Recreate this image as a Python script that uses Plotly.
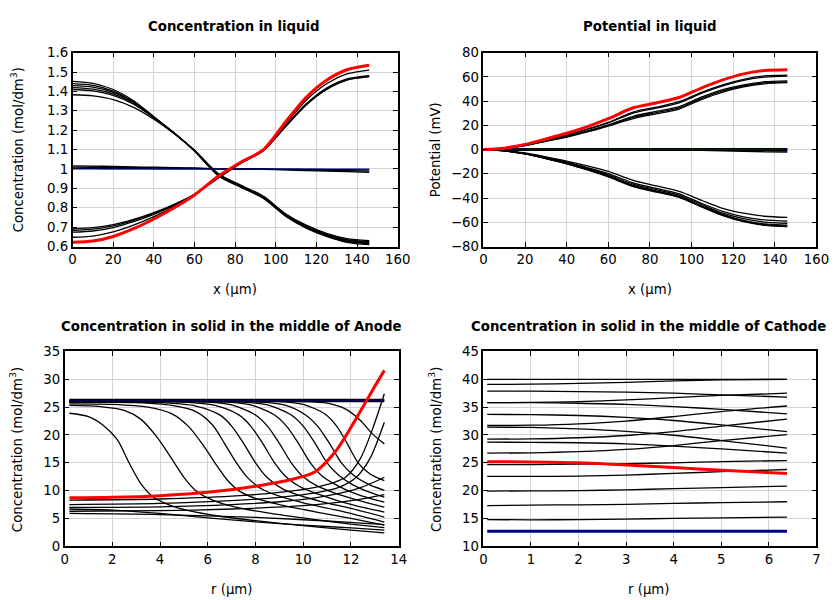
import plotly.graph_objects as go

# ---------------- Panel 1 & 2 : liquid (x in micrometres) ----------------
X_LIQ = [0, 10, 20, 30, 40, 50, 60, 72, 83, 94, 105, 115, 125, 135, 146]

CL_RED = [0.622, 0.628, 0.652, 0.692, 0.742, 0.800, 0.866, 0.965, 1.036, 1.100, 1.245, 1.370, 1.458, 1.512, 1.535]
CL_UP1 = [0.691, 0.697, 0.713, 0.740, 0.775, 0.818, 0.870, 0.955, 1.030, 1.095, 1.220, 1.330, 1.410, 1.458, 1.476]
CL_UP2 = [0.684, 0.690, 0.707, 0.735, 0.771, 0.815, 0.869, 0.956, 1.031, 1.096, 1.222, 1.332, 1.412, 1.460, 1.478]
CL_UP3 = [0.674, 0.680, 0.698, 0.728, 0.766, 0.812, 0.868, 0.957, 1.032, 1.097, 1.225, 1.336, 1.417, 1.465, 1.482]
CL_UP4 = [0.648, 0.654, 0.675, 0.710, 0.754, 0.806, 0.868, 0.962, 1.034, 1.099, 1.235, 1.355, 1.440, 1.490, 1.510]
CL_DN1 = [1.452, 1.442, 1.410, 1.352, 1.270, 1.185, 1.092, 0.962, 0.905, 0.848, 0.755, 0.695, 0.652, 0.622, 0.610]
CL_DN2 = [1.440, 1.431, 1.402, 1.347, 1.268, 1.185, 1.093, 0.964, 0.906, 0.849, 0.757, 0.697, 0.654, 0.625, 0.614]
CL_DN3 = [1.430, 1.422, 1.395, 1.343, 1.267, 1.185, 1.094, 0.966, 0.908, 0.851, 0.759, 0.699, 0.657, 0.628, 0.617]
CL_DN4 = [1.420, 1.412, 1.387, 1.338, 1.265, 1.184, 1.095, 0.968, 0.910, 0.853, 0.761, 0.702, 0.660, 0.632, 0.621]
CL_DN5 = [1.410, 1.403, 1.380, 1.334, 1.264, 1.184, 1.096, 0.970, 0.912, 0.855, 0.764, 0.705, 0.663, 0.636, 0.625]
CL_DN6 = [1.383, 1.377, 1.358, 1.318, 1.257, 1.182, 1.097, 0.974, 0.916, 0.859, 0.768, 0.710, 0.668, 0.641, 0.630]
CL_FL1 = [1.016, 1.015, 1.013, 1.011, 1.009, 1.007, 1.005, 1.002, 1.000, 0.998, 0.995, 0.992, 0.989, 0.986, 0.983]
CL_FL2 = [1.010, 1.009, 1.008, 1.007, 1.006, 1.005, 1.003, 1.001, 1.000, 0.999, 0.997, 0.995, 0.993, 0.991, 0.989]
CL_FL3 = [1.003, 1.003, 1.002, 1.002, 1.001, 1.001, 1.001, 1.000, 1.000, 1.000, 0.999, 0.998, 0.997, 0.996, 0.995]
CL_BLUE = [1.0, 1.0, 1.0, 1.0, 1.0, 1.0, 1.0, 1.0, 1.0, 1.0, 1.0, 1.0, 1.0, 1.0, 1.0]

PL_RED = [0, 1.2, 4.3, 8.8, 13.5, 19.0, 25.5, 34.5, 38.5, 43.0, 51.0, 57.5, 62.5, 65.3, 66.0]
PL_UP1 = [0, 1.1, 3.9, 7.9, 12.0, 17.0, 22.5, 31.0, 35.0, 39.5, 47.5, 53.5, 58.0, 60.8, 61.5]
PL_UP2 = [0, 1.1, 3.8, 7.7, 11.8, 16.6, 22.0, 30.2, 34.2, 38.6, 46.6, 52.6, 57.2, 59.8, 60.6]
PL_UP3 = [0, 1.0, 3.5, 7.2, 11.0, 15.5, 20.5, 27.5, 31.5, 35.5, 43.5, 49.5, 53.5, 56.0, 56.8]
PL_UP4 = [0, 1.0, 3.4, 7.0, 10.6, 15.0, 20.0, 26.5, 30.5, 34.5, 42.5, 48.5, 52.5, 55.0, 55.8]
PL_UP5 = [0, 0.9, 3.3, 6.8, 10.3, 14.6, 19.4, 25.5, 29.5, 33.5, 41.5, 47.5, 51.8, 54.3, 55.2]
PL_DN1 = [0, -0.8, -2.8, -6.0, -9.5, -13.5, -18.0, -25.5, -30.0, -34.5, -42.0, -48.5, -52.5, -55.0, -56.0]
PL_DN2 = [0, -0.9, -3.1, -6.5, -10.3, -14.8, -19.8, -27.5, -32.0, -36.5, -44.5, -51.0, -55.5, -58.0, -59.0]
PL_DN3 = [0, -0.9, -3.3, -6.9, -10.8, -15.5, -20.8, -28.5, -33.0, -37.5, -45.5, -52.5, -57.0, -59.8, -60.8]
PL_DN4 = [0, -1.0, -3.5, -7.2, -11.3, -16.2, -21.7, -29.5, -34.0, -38.5, -46.5, -53.5, -58.5, -61.3, -62.3]
PL_DN5 = [0, -1.0, -3.55, -7.35, -11.5, -16.5, -22.1, -30.0, -34.5, -39.0, -47.0, -54.0, -59.0, -62.0, -63.0]
PL_DN6 = [0, -1.0, -3.6, -7.5, -11.7, -16.8, -22.5, -30.5, -35.0, -39.5, -47.5, -54.5, -59.5, -62.5, -63.5]
PL_FL1 = [0, 0, 0, 0, 0, 0, -0.1, -0.2, -0.3, -0.4, -0.7, -1.0, -1.4, -1.8, -2.0]
PL_FL2 = [0, 0, 0, 0, 0, 0, 0, -0.1, -0.1, -0.2, -0.3, -0.5, -0.7, -0.9, -1.0]
PL_BLUE = [0, 0, 0, 0, 0, 0, 0, 0, 0, 0, 0, 0, 0, 0, 0]

# ---------------- Panel 3 : anode solid (r in micrometres) ----------------
AN_FLAT_R = [0.2, 13.4]
AN_FLAT_C = [26.2, 26.2]
AN_R1 = [0.2, 1.0, 1.6, 2.2, 2.7, 3.2, 3.7, 4.4, 5.2, 6.5, 8.0, 10.0, 12.0, 13.4]
AN_C1 = [23.9, 23.3, 21.8, 19.2, 15.0, 11.2, 8.9, 7.4, 6.4, 5.4, 4.6, 3.7, 2.9, 2.4]
AN_R2 = [0.2, 1.5, 2.5, 3.2, 3.8, 4.2, 4.6, 5.0, 5.5, 6.2, 7.0, 8.5, 10.5, 12.0, 13.4]
AN_C2 = [25.3, 25.1, 24.4, 22.8, 20.0, 17.6, 15.0, 12.4, 10.0, 8.3, 7.2, 6.0, 4.8, 4.0, 3.35]
AN_R3 = [0.2, 2.0, 3.5, 4.5, 5.2, 5.8, 6.3, 6.8, 7.3, 8.0, 9.0, 10.5, 12.0, 13.4]
AN_C3 = [25.6, 25.5, 25.0, 23.8, 21.5, 18.2, 15.0, 12.0, 10.0, 8.6, 7.5, 6.2, 5.0, 3.8]
AN_R4 = [0.2, 3.0, 4.5, 5.5, 6.2, 6.7, 7.2, 7.7, 8.3, 9.0, 10.0, 11.5, 13.4]
AN_C4 = [25.9, 25.8, 25.3, 24.2, 21.8, 18.5, 15.0, 12.2, 10.2, 9.0, 7.8, 6.4, 4.36]
AN_R5 = [0.2, 4.0, 5.5, 6.5, 7.0, 7.5, 8.0, 8.5, 9.1, 9.8, 10.8, 12.0, 13.4]
AN_C5 = [25.9, 25.8, 25.2, 23.6, 21.6, 18.5, 15.0, 12.3, 10.4, 9.2, 8.0, 6.8, 5.26]
AN_R6 = [0.2, 5.0, 6.3, 7.3, 7.8, 8.3, 8.8, 9.3, 9.9, 10.6, 11.6, 12.6, 13.4]
AN_C6 = [26.0, 25.9, 25.3, 23.6, 21.6, 18.5, 15.0, 12.4, 10.6, 9.4, 8.0, 6.9, 6.16]
AN_R7 = [0.2, 6.0, 7.0, 8.0, 8.5, 9.0, 9.5, 10.0, 10.6, 11.3, 12.2, 13.4]
AN_C7 = [26.0, 25.9, 25.4, 23.6, 21.6, 18.5, 15.0, 12.5, 10.8, 9.6, 8.4, 7.05]
AN_R8 = [0.2, 6.8, 7.8, 8.8, 9.3, 9.8, 10.3, 10.8, 11.4, 12.1, 12.8, 13.4]
AN_C8 = [26.0, 25.9, 25.4, 23.6, 21.6, 18.5, 15.0, 12.6, 11.0, 9.6, 8.6, 7.95]
AN_R9 = [0.2, 7.5, 8.5, 9.5, 10.0, 10.5, 11.0, 11.5, 12.1, 12.8, 13.4]
AN_C9 = [26.0, 25.9, 25.4, 23.6, 21.6, 18.5, 15.0, 12.7, 11.0, 9.7, 8.85]
AN_R10 = [0.2, 8.2, 9.2, 10.1, 10.6, 11.1, 11.6, 12.1, 12.7, 13.4]
AN_C10 = [26.0, 25.9, 25.4, 23.6, 21.6, 18.5, 15.0, 12.8, 11.2, 10.05]
AN_R11 = [0.2, 9.0, 10.0, 10.9, 11.4, 11.8, 12.3, 12.8, 13.4]
AN_C11 = [26.1, 26.0, 25.5, 23.8, 21.6, 18.8, 15.0, 13.0, 11.8]
AN_R12 = [0.2, 10.0, 11.0, 11.8, 12.4, 12.9, 13.4]
AN_C12 = [26.1, 26.0, 25.7, 24.6, 22.6, 20.2, 18.4]
AN_RR1 = [0.2, 4.0, 7.0, 9.0, 10.5, 11.3, 11.8, 12.4, 12.9, 13.4]
AN_RC1 = [8.3, 8.5, 9.0, 9.7, 10.6, 11.5, 12.5, 15.8, 21.0, 27.4]
AN_RR2 = [0.2, 4.0, 7.0, 9.0, 10.5, 11.5, 12.2, 12.8, 13.4]
AN_RC2 = [7.5, 7.7, 8.2, 8.8, 9.6, 10.6, 12.3, 15.8, 22.3]
AN_RR3 = [0.2, 4.0, 7.0, 9.0, 10.5, 11.5, 12.3, 13.0, 13.4]
AN_RC3 = [7.0, 7.1, 7.5, 8.0, 8.7, 9.5, 10.4, 11.6, 12.4]
AN_RR4 = [0.2, 4.0, 7.0, 10.0, 12.0, 13.4]
AN_RC4 = [6.3, 6.4, 6.7, 7.3, 8.2, 9.3]
AN_LR1 = [0.2, 2.0, 4.0, 6.0, 8.0, 10.0, 12.0, 13.4]
AN_LC1 = [6.7, 6.5, 5.9, 5.1, 4.4, 3.8, 3.3, 2.9]
AN_LR2 = [0.2, 4.0, 8.0, 12.0, 13.4]
AN_LC2 = [5.9, 5.7, 5.2, 4.3, 3.9]
AN_RED_R = [0.2, 2.0, 4.0, 6.0, 8.0, 9.5, 10.5, 11.4, 12.2, 12.9, 13.4]
AN_RED_C = [8.7, 8.8, 9.1, 9.7, 10.8, 12.0, 13.4, 17.3, 22.8, 28.0, 31.6]

# ---------------- Panel 4 : cathode solid ----------------
R_CAT = [0.08, 1.0, 2.0, 3.0, 4.0, 5.0, 6.38]
CA_1 = [39.97, 39.97, 39.98, 39.98, 39.99, 40.0, 40.0]
CA_2 = [39.08, 39.12, 39.25, 39.45, 39.7, 39.9, 40.0]
CA_3 = [37.88, 37.86, 37.8, 37.7, 37.5, 37.2, 36.8]
CA_4 = [35.8, 35.85, 36.0, 36.3, 36.7, 37.1, 37.5]
CA_5 = [35.8, 35.8, 35.7, 35.5, 35.1, 34.6, 33.8]
CA_6 = [33.7, 33.65, 33.5, 33.15, 32.6, 31.8, 30.6]
CA_7 = [31.7, 31.75, 32.0, 32.5, 33.3, 34.2, 35.2]
CA_8 = [31.4, 31.35, 31.1, 30.65, 29.95, 29.0, 27.65]
CA_9 = [29.26, 29.3, 29.5, 29.9, 30.6, 31.6, 32.85]
CA_10 = [28.7, 28.68, 28.6, 28.4, 28.0, 27.5, 26.75]
CA_11 = [26.75, 26.8, 27.0, 27.4, 28.1, 29.0, 30.05]
CA_12 = [24.66, 24.68, 24.75, 24.85, 25.0, 25.2, 25.4]
CA_13 = [22.56, 22.55, 22.6, 22.8, 23.1, 23.4, 23.8]
CA_14 = [19.93, 19.95, 20.0, 20.15, 20.35, 20.55, 20.8]
CA_15 = [17.3, 17.4, 17.45, 17.55, 17.7, 17.85, 18.0]
CA_16 = [14.8, 14.75, 14.8, 14.9, 15.0, 15.1, 15.25]
CA_RED = [25.2, 25.15, 25.0, 24.6, 24.15, 23.65, 23.1]
CA_BLUE = [12.7, 12.7, 12.7, 12.7, 12.7, 12.7, 12.7]

BLACK = "black"
RED = "#ff0000"
NAVY = "#00008b"
FONT = "DejaVu Sans"

fig = go.Figure()


def add(x, y, ax, color=BLACK, width=1.3, shape="spline"):
    xa, ya = ax
    fig.add_trace(go.Scatter(
        x=x, y=y, mode="lines", xaxis=xa, yaxis=ya,
        line=dict(color=color, width=width, shape=shape, smoothing=0.8),
        showlegend=False, hoverinfo="skip"))


P1 = ("x", "y")
P2 = ("x2", "y2")
P3 = ("x3", "y3")
P4 = ("x4", "y4")

# panel 1
for s in [CL_UP1, CL_UP2, CL_UP3, CL_UP4, CL_DN1, CL_DN2, CL_DN3, CL_DN4, CL_DN5, CL_DN6,
          CL_FL1, CL_FL2, CL_FL3]:
    add(X_LIQ, s, P1)
add(X_LIQ, CL_BLUE, P1, NAVY, 1.2)
add(X_LIQ, CL_RED, P1, RED, 3)

# panel 2
for s in [PL_UP1, PL_UP2, PL_UP3, PL_UP4, PL_UP5, PL_DN1, PL_DN2, PL_DN3, PL_DN4, PL_DN5, PL_DN6,
          PL_FL1, PL_FL2]:
    add(X_LIQ, s, P2)
add(X_LIQ, PL_BLUE, P2, BLACK, 3, "linear")
add(X_LIQ, PL_BLUE, P2, NAVY, 1.0, "linear")
add(X_LIQ, PL_RED, P2, RED, 3)

# panel 3
for rr, cc in [(AN_R1, AN_C1), (AN_R2, AN_C2), (AN_R3, AN_C3), (AN_R4, AN_C4), (AN_R5, AN_C5),
               (AN_R6, AN_C6), (AN_R7, AN_C7), (AN_R8, AN_C8), (AN_R9, AN_C9), (AN_R10, AN_C10),
               (AN_R11, AN_C11), (AN_R12, AN_C12), (AN_RR1, AN_RC1), (AN_RR2, AN_RC2),
               (AN_RR3, AN_RC3), (AN_RR4, AN_RC4), (AN_LR1, AN_LC1), (AN_LR2, AN_LC2)]:
    add(rr, cc, P3)
add(AN_FLAT_R, AN_FLAT_C, P3, BLACK, 3.4, "linear")
add(AN_FLAT_R, AN_FLAT_C, P3, NAVY, 0.8, "linear")
add(AN_RED_R, AN_RED_C, P3, RED, 3)

# panel 4
for s in [CA_1, CA_2, CA_3, CA_4, CA_5, CA_6, CA_7, CA_8, CA_9, CA_10, CA_11, CA_12, CA_13,
          CA_14, CA_15, CA_16]:
    add(R_CAT, s, P4)
add(R_CAT, CA_BLUE, P4, NAVY, 3, "linear")
add(R_CAT, CA_RED, P4, RED, 3)

W, H = 840, 600
# the page is photographed slightly scaled; convert target picture pixels to figure pixels
KX, BX = 0.9826, 1.2
KY, BY = 0.9757, 6.3


def fx(s):
    return (s - BX) / KX


def fy(s):
    return (s - BY) / KY


def px_x(a, b):
    return [fx(a) / W, fx(b) / W]


def px_y(top, bottom):
    return [1 - fy(bottom) / H, 1 - fy(top) / H]


TICK = 13.3


def axis(domain, rng, dtick, anchor):
    return dict(domain=domain, range=rng, dtick=dtick, tick0=rng[0], anchor=anchor,
                showgrid=True, gridcolor="#d4d4d4", gridwidth=1, zeroline=False,
                showline=True, linecolor="black", linewidth=1.5, mirror="allticks",
                ticks="inside", ticklen=5, tickwidth=1.2, tickcolor="black",
                tickfont=dict(family=FONT, size=TICK, color="black"), fixedrange=True)


layout = dict(
    width=W, height=H, margin=dict(l=0, r=0, t=0, b=0),
    paper_bgcolor="white", plot_bgcolor="white",
    font=dict(family=FONT, color="black"),
    xaxis=axis(px_x(70, 396), [0, 160], 20, "y"),
    yaxis=axis(px_y(52, 246), [0.6, 1.6], 0.1, "x"),
    xaxis2=axis(px_x(482, 816), [0, 160], 20, "y2"),
    yaxis2=axis(px_y(52, 246), [-80, 80], 20, "x2"),
    xaxis3=axis(px_x(62, 397), [0, 14], 2, "y3"),
    yaxis3=axis(px_y(351, 546), [0, 35], 5, "x3"),
    xaxis4=axis(px_x(482, 816), [0, 7], 1, "y4"),
    yaxis4=axis(px_y(351, 546), [10, 45], 5, "x4"),
)
fig.update_layout(**layout)


def ann(text, xp, yp, size=13.3, bold=False, angle=0):
    if bold:
        text = "<b>" + text + "</b>"
    fig.add_annotation(text=text, x=fx(xp) / W, y=1 - fy(yp) / H, xref="paper", yref="paper",
                       showarrow=False, xanchor="center", yanchor="middle", textangle=angle,
                       font=dict(family=FONT, size=size, color="black"))


ann("Concentration in liquid", 232, 26, 13.3, True)
ann("Potential in liquid", 649, 26, 13.3, True)
ann("Concentration in solid in the middle of Anode", 229, 326, 13.3, True)
ann("Concentration in solid in the middle of Cathode", 648, 326, 13.3, True)
ann("x (µm)", 233, 289)
ann("x (µm)", 649, 289)
ann("r (µm)", 229, 589)
ann("r (µm)", 648, 589)
ann("Concentration (mol/dm<sup>3</sup>)", 14, 149, 13.3, False, -90)
ann("Potential (mV)", 434, 149, 13.3, False, -90)
ann("Concentration (mol/dm<sup>3</sup>)", 14, 449, 13.3, False, -90)
ann("Concentration (mol/dm<sup>3</sup>)", 434, 449, 13.3, False, -90)

fig.write_html(
    "out.html",
    config={"displayModeBar": False},
    post_script="document.body.style.margin='0';document.body.style.padding='0';"
                "document.documentElement.style.overflow='hidden';",
)
